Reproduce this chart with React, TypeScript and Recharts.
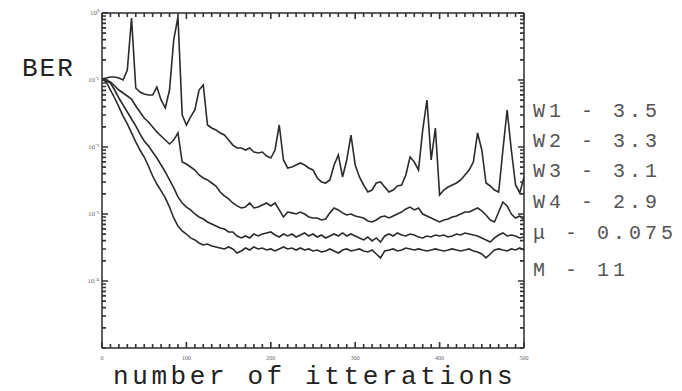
import React from 'react';
import { Line, LineChart, ReferenceLine, XAxis, YAxis } from 'recharts';

// iterations, one reading every 5
const iterations = [
  0, 5, 10, 15, 20, 25, 30, 35, 40, 45, 50, 55, 60, 65, 70, 75, 80, 85, 90, 95,
  100, 105, 110, 115, 120, 125, 130, 135, 140, 145, 150, 155, 160, 165, 170, 175, 180, 185, 190, 195,
  200, 205, 210, 215, 220, 225, 230, 235, 240, 245, 250, 255, 260, 265, 270, 275, 280, 285, 290, 295,
  300, 305, 310, 315, 320, 325, 330, 335, 340, 345, 350, 355, 360, 365, 370, 375, 380, 385, 390, 395,
  400, 405, 410, 415, 420, 425, 430, 435, 440, 445, 450, 455, 460, 465, 470, 475, 480, 485, 490, 495,
  500,
];

const berW1 = [
  0.104, 0.107, 0.111, 0.111, 0.107, 0.1, 0.141, 0.842, 0.076, 0.0662, 0.0618, 0.0597, 0.0597, 0.0786, 0.0503, 0.0382, 0.0709, 0.396, 0.872, 0.0301,
  0.0213, 0.0281, 0.0357, 0.0709, 0.0842, 0.0213, 0.0192, 0.018, 0.0162, 0.0151, 0.0127, 0.0107, 0.00966, 0.00966, 0.00902, 0.00966, 0.00842, 0.00814, 0.00842, 0.00734,
  0.00685, 0.00902, 0.0213, 0.0064, 0.00486, 0.00503, 0.00539, 0.00577, 0.00539, 0.00486, 0.00454, 0.00345, 0.00301, 0.0029, 0.00322, 0.00539, 0.0076, 0.00357, 0.0064, 0.0151,
  0.00539, 0.00357, 0.00271, 0.00213, 0.00228, 0.0029, 0.00301, 0.00253, 0.00213, 0.00228, 0.00262, 0.00271, 0.00382, 0.00709, 0.00597, 0.00454, 0.018, 0.0503, 0.0064, 0.0192,
  0.00192, 0.00228, 0.00253, 0.00271, 0.0029, 0.00322, 0.00382, 0.00454, 0.00597, 0.0162, 0.00902, 0.0029, 0.00262, 0.00228, 0.00213, 0.00902, 0.0357, 0.00902, 0.00271, 0.00206,
  0.00357,
];

const berW2 = [
  0.104, 0.1, 0.0934, 0.0814, 0.0709, 0.064, 0.0577, 0.0521, 0.041, 0.0333, 0.0271, 0.0236, 0.0199, 0.0168, 0.0146, 0.0127, 0.0111, 0.0127, 0.0162, 0.00597,
  0.00558, 0.00503, 0.00454, 0.00382, 0.00345, 0.00322, 0.0029, 0.00262, 0.00213, 0.00186, 0.00168, 0.00146, 0.00132, 0.00123, 0.00127, 0.00146, 0.00123, 0.00127, 0.00136, 0.00146,
  0.00132, 0.00146, 0.00115, 0.000902, 0.00107, 0.00104, 0.001, 0.00107, 0.001, 0.000902, 0.000872, 0.000872, 0.000814, 0.000842, 0.00104, 0.00123, 0.00115, 0.00104, 0.000966, 0.001,
  0.000934, 0.000902, 0.000872, 0.000786, 0.00076, 0.000814, 0.000902, 0.000934, 0.000872, 0.000934, 0.001, 0.00107, 0.00119, 0.00127, 0.00115, 0.00123, 0.001, 0.000934, 0.000872, 0.000814,
  0.00076, 0.000814, 0.000842, 0.000902, 0.000934, 0.001, 0.00107, 0.00107, 0.00115, 0.00123, 0.00111, 0.000966, 0.000814, 0.00076, 0.00107, 0.00151, 0.00132, 0.001, 0.000872, 0.000934,
  0.000814,
];

const berW3 = [
  0.104, 0.0966, 0.0902, 0.0709, 0.0539, 0.0424, 0.0333, 0.0262, 0.0206, 0.0157, 0.0123, 0.0104, 0.00842, 0.00685, 0.00539, 0.00424, 0.00322, 0.00245, 0.0018, 0.00146,
  0.00127, 0.00115, 0.001, 0.000902, 0.000842, 0.00076, 0.000709, 0.000662, 0.000618, 0.000597, 0.000539, 0.000539, 0.00047, 0.000439, 0.00047, 0.000439, 0.000503, 0.00047, 0.000503, 0.000521,
  0.000539, 0.000486, 0.000454, 0.000503, 0.00047, 0.000503, 0.000454, 0.000486, 0.000521, 0.00047, 0.000503, 0.000454, 0.000486, 0.000439, 0.00047, 0.000503, 0.00047, 0.000521, 0.00047, 0.000503,
  0.00047, 0.000439, 0.00041, 0.000454, 0.000396, 0.000439, 0.000382, 0.00047, 0.000503, 0.00047, 0.000521, 0.000486, 0.00047, 0.000503, 0.000486, 0.000454, 0.000439, 0.00047, 0.000454, 0.000486,
  0.00047, 0.000486, 0.000454, 0.00047, 0.000503, 0.000486, 0.000521, 0.000503, 0.000486, 0.00047, 0.000439, 0.00041, 0.000382, 0.000439, 0.000486, 0.000521, 0.00047, 0.000486, 0.00047, 0.000439,
  0.000454,
];

const berW4 = [
  0.104, 0.0934, 0.0709, 0.0539, 0.0396, 0.029, 0.0221, 0.0162, 0.0119, 0.00902, 0.00709, 0.00521, 0.00369, 0.0028, 0.00221, 0.00174, 0.00127, 0.000872, 0.000662, 0.000558,
  0.000503, 0.000439, 0.00041, 0.000369, 0.000345, 0.000357, 0.000333, 0.000322, 0.000311, 0.000301, 0.000322, 0.000301, 0.000262, 0.000281, 0.000311, 0.00029, 0.000322, 0.000301, 0.000311, 0.00029,
  0.000301, 0.000281, 0.000301, 0.000322, 0.000301, 0.000311, 0.00029, 0.000311, 0.00029, 0.000301, 0.000281, 0.00029, 0.000271, 0.000281, 0.000301, 0.000281, 0.000262, 0.00029, 0.000301, 0.000281,
  0.00029, 0.000301, 0.000281, 0.000271, 0.00029, 0.000253, 0.000221, 0.000281, 0.00029, 0.000301, 0.000281, 0.00029, 0.000311, 0.000301, 0.00029, 0.000301, 0.00029, 0.000281, 0.00029, 0.000301,
  0.00029, 0.000281, 0.00029, 0.000301, 0.00029, 0.000281, 0.00029, 0.000301, 0.000281, 0.000271, 0.000253, 0.000221, 0.000253, 0.00029, 0.000301, 0.00029, 0.000281, 0.000301, 0.00029, 0.000311,
  0.00029,
];

const xTicks = [0, 100, 200, 300, 400, 500];
const yTicks = [1, 0.1, 0.01, 0.001, 0.0001];
const yTickLabels = ['10⁰', '10⁻¹', '10⁻²', '10⁻³', '10⁻⁴'];
const legendLines = ['W1 - 3.5', 'W2 - 3.3', 'W3 - 3.1', 'W4 - 2.9', 'μ - 0.075', 'M - 11'];
const legendBaselines = [117, 147, 177, 208, 239, 276];

// minor ticks: every 10 iterations, 1..9 per decade
const xMinorTicks = Array.from({ length: 51 }, (_, i) => i * 10);
const decades = [0.00001, 0.0001, 0.001, 0.01, 0.1];
const yMinorTicks = [...decades.flatMap((d) => [1, 2, 3, 4, 5, 6, 7, 8, 9].map((m) => m * d)), 1];

const data = iterations.map((it, i) => ({
  it,
  w1: berW1[i],
  w2: berW2[i],
  w3: berW3[i],
  w4: berW4[i],
}));

const W = 682;
const H = 391;
const margin = { top: 13, right: 158, bottom: 31, left: 72 };
const yAxisW = 30;
const xAxisH = 12;
const plotW = W - margin.left - margin.right - yAxisW;
const plotH = H - margin.top - margin.bottom - xAxisH;

const ink = '#2b2b2b';
const mono = '"Liberation Mono", "DejaVu Sans Mono", monospace';

const isMajorY = (v: number) => yTicks.findIndex((t) => Math.abs(t - v) / t < 1e-6);

// x ticks drawn inward on the bottom and top edges
const FrameXTick = (props: any) => {
  const { x, y, payload } = props;
  const major = xTicks.includes(payload.value);
  const len = major ? 6 : 4;
  return (
    <g>
      <path d={`M${x},${y}V${y - len}M${x},${y - plotH}V${y - plotH + len}`} stroke="#333" strokeWidth={1.6} fill="none" />
      {major && (
        <text x={x} y={y + 12} textAnchor="middle" fontSize={6} fill="#666">
          {payload.value}
        </text>
      )}
    </g>
  );
};

// y ticks drawn inward on the left and right edges
const FrameYTick = (props: any) => {
  const { x, y, payload } = props;
  const idx = isMajorY(payload.value);
  const len = idx >= 0 ? 6 : 4;
  return (
    <g>
      <path d={`M${x},${y}H${x + len}M${x + plotW},${y}H${x + plotW - len}`} stroke="#333" strokeWidth={1.6} fill="none" />
      {idx >= 0 && (
        <text x={x - 3} y={y + 2} textAnchor="end" fontSize={7} fill="#666">
          {yTickLabels[idx]}
        </text>
      )}
    </g>
  );
};

const App: React.FC = () => {
  return (
    <div style={{ position: 'absolute', left: 0, top: 0, width: W, height: H, background: '#fff' }}>
      <LineChart width={W} height={H} data={data} margin={margin}>
        <XAxis
          dataKey="it"
          type="number"
          domain={[0, 500]}
          allowDataOverflow
          ticks={xMinorTicks}
          interval={0}
          height={xAxisH}
          tickLine={false}
          tickSize={0}
          tickMargin={0}
          stroke={ink}
          strokeWidth={1.5}
          tick={(p: any) => <FrameXTick {...p} />}
        />
        <YAxis
          type="number"
          scale="log"
          domain={[0.00001, 1]}
          allowDataOverflow
          ticks={yMinorTicks}
          interval={0}
          width={yAxisW}
          tickLine={false}
          tickSize={0}
          tickMargin={0}
          stroke={ink}
          strokeWidth={1.5}
          tick={(p: any) => <FrameYTick {...p} />}
        />
        <ReferenceLine y={1} stroke={ink} strokeWidth={1.5} />
        <ReferenceLine x={500} stroke={ink} strokeWidth={1.5} />
        <Line type="linear" dataKey="w1" stroke={ink} strokeWidth={1.6} dot={false} isAnimationActive={false} />
        <Line type="linear" dataKey="w2" stroke={ink} strokeWidth={1.6} dot={false} isAnimationActive={false} />
        <Line type="linear" dataKey="w3" stroke={ink} strokeWidth={1.6} dot={false} isAnimationActive={false} />
        <Line type="linear" dataKey="w4" stroke={ink} strokeWidth={1.6} dot={false} isAnimationActive={false} />
      </LineChart>
      <svg width={W} height={H} style={{ position: 'absolute', left: 0, top: 0, pointerEvents: 'none' }}>
        <text x={22} y={76} fontFamily={mono} fontSize={26} letterSpacing={2} fill="#222">
          BER
        </text>
        {legendLines.map((line, i) => (
          <text key={line} x={533} y={legendBaselines[i]} fontFamily={mono} fontSize={20} letterSpacing={4} fill="#555">
            {line}
          </text>
        ))}
        <text x={113} y={384} fontFamily={mono} fontSize={26} letterSpacing={3.6} fill="#222">
          number of itterations
        </text>
      </svg>
    </div>
  );
};

export default App;
